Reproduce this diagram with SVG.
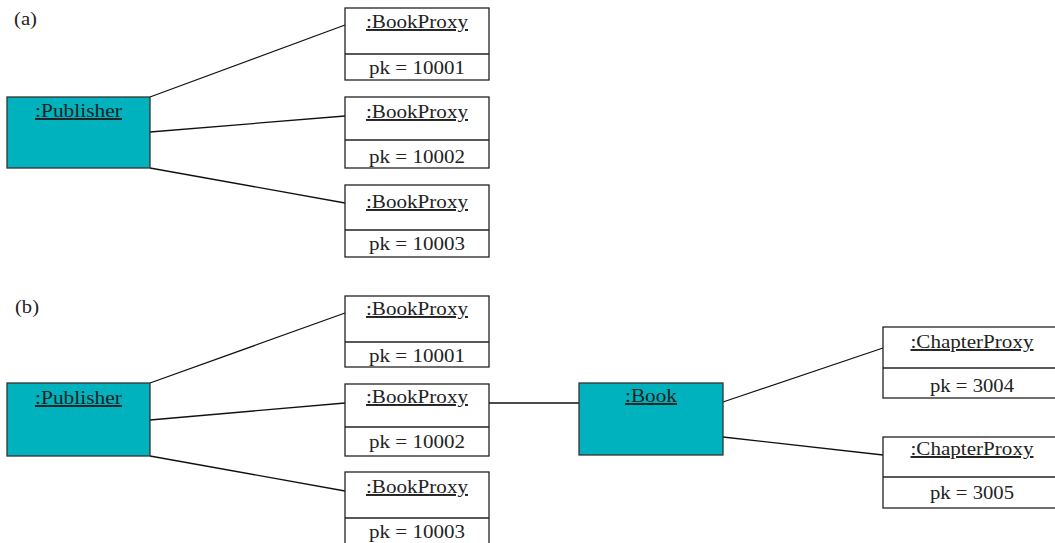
<svg xmlns="http://www.w3.org/2000/svg" width="1055" height="543" viewBox="0 0 1055 543">
<style>
.box{fill:#fff;stroke:#222;stroke-width:1.3}
.act{fill:#00b2bd;stroke:#333;stroke-width:1.3}
.div{stroke:#222;stroke-width:1.3}
.t{font-family:"Liberation Serif","Times New Roman",serif;font-size:19.5px;fill:#222;text-anchor:middle}
.u{text-decoration:underline}
.lab{font-family:"Liberation Serif","Times New Roman",serif;font-size:19.5px;fill:#222}
.c{stroke:#111;stroke-width:1.3;fill:none}
</style>
<rect width="1055" height="543" fill="#fff"/>
<text class="lab" x="14" y="25" textLength="23" lengthAdjust="spacingAndGlyphs">(a)</text>
<text class="lab" x="15" y="313" textLength="24" lengthAdjust="spacingAndGlyphs">(b)</text>
<g id="connectors">
<line class="c" x1="150" y1="97" x2="345" y2="25"/>
<line class="c" x1="150" y1="132" x2="345" y2="116"/>
<line class="c" x1="150" y1="168" x2="345" y2="203"/>
<line class="c" x1="150" y1="383" x2="345" y2="313"/>
<line class="c" x1="150" y1="420" x2="345" y2="403"/>
<line class="c" x1="150" y1="456" x2="345" y2="491"/>
<line class="c" x1="489" y1="403" x2="579" y2="403"/>
<line class="c" x1="723" y1="402" x2="883" y2="348"/>
<line class="c" x1="723" y1="437" x2="883" y2="455"/>
</g>
<g id="a_publisher">
<rect class="act" x="7" y="97" width="143" height="71"/>
<text class="t u" x="78.5" y="117" textLength="87" lengthAdjust="spacingAndGlyphs">:Publisher</text>
</g>
<g id="a_bookproxy1">
<rect class="box" x="345" y="8" width="144" height="72"/>
<line class="div" x1="345" y1="54" x2="489" y2="54"/>
<text class="t u" x="417" y="28" textLength="102" lengthAdjust="spacingAndGlyphs">:BookProxy</text>
<text class="t" x="417" y="74" textLength="96" lengthAdjust="spacingAndGlyphs">pk = 10001</text>
</g>
<g id="a_bookproxy2">
<rect class="box" x="345" y="97" width="144" height="71"/>
<line class="div" x1="345" y1="140" x2="489" y2="140"/>
<text class="t u" x="417" y="118" textLength="102" lengthAdjust="spacingAndGlyphs">:BookProxy</text>
<text class="t" x="417" y="163" textLength="96" lengthAdjust="spacingAndGlyphs">pk = 10002</text>
</g>
<g id="a_bookproxy3">
<rect class="box" x="345" y="185" width="144" height="72"/>
<line class="div" x1="345" y1="230" x2="489" y2="230"/>
<text class="t u" x="417" y="208" textLength="102" lengthAdjust="spacingAndGlyphs">:BookProxy</text>
<text class="t" x="417" y="250" textLength="96" lengthAdjust="spacingAndGlyphs">pk = 10003</text>
</g>
<g id="b_publisher">
<rect class="act" x="7" y="383" width="143" height="73"/>
<text class="t u" x="78.5" y="404" textLength="87" lengthAdjust="spacingAndGlyphs">:Publisher</text>
</g>
<g id="b_bookproxy1">
<rect class="box" x="345" y="296" width="144" height="71"/>
<line class="div" x1="345" y1="342" x2="489" y2="342"/>
<text class="t u" x="417" y="315" textLength="102" lengthAdjust="spacingAndGlyphs">:BookProxy</text>
<text class="t" x="417" y="362" textLength="96" lengthAdjust="spacingAndGlyphs">pk = 10001</text>
</g>
<g id="b_bookproxy2">
<rect class="box" x="345" y="384" width="144" height="72"/>
<line class="div" x1="345" y1="427" x2="489" y2="427"/>
<text class="t u" x="417" y="403" textLength="102" lengthAdjust="spacingAndGlyphs">:BookProxy</text>
<text class="t" x="417" y="448" textLength="96" lengthAdjust="spacingAndGlyphs">pk = 10002</text>
</g>
<g id="b_bookproxy3">
<rect class="box" x="345" y="472" width="144" height="75"/>
<line class="div" x1="345" y1="518" x2="489" y2="518"/>
<text class="t u" x="417" y="493" textLength="102" lengthAdjust="spacingAndGlyphs">:BookProxy</text>
<text class="t" x="417" y="538" textLength="96" lengthAdjust="spacingAndGlyphs">pk = 10003</text>
</g>
<g id="b_book">
<rect class="act" x="579" y="383" width="144" height="72"/>
<text class="t u" x="651" y="402" textLength="52" lengthAdjust="spacingAndGlyphs">:Book</text>
</g>
<g id="b_chapterproxy1">
<rect class="box" x="883" y="327" width="180" height="71"/>
<line class="div" x1="883" y1="368" x2="1063" y2="368"/>
<text class="t u" x="972" y="348" textLength="123" lengthAdjust="spacingAndGlyphs">:ChapterProxy</text>
<text class="t" x="972" y="392" textLength="84" lengthAdjust="spacingAndGlyphs">pk = 3004</text>
</g>
<g id="b_chapterproxy2">
<rect class="box" x="883" y="437" width="180" height="71"/>
<line class="div" x1="883" y1="477" x2="1063" y2="477"/>
<text class="t u" x="972" y="455" textLength="123" lengthAdjust="spacingAndGlyphs">:ChapterProxy</text>
<text class="t" x="972" y="499" textLength="84" lengthAdjust="spacingAndGlyphs">pk = 3005</text>
</g>
</svg>
